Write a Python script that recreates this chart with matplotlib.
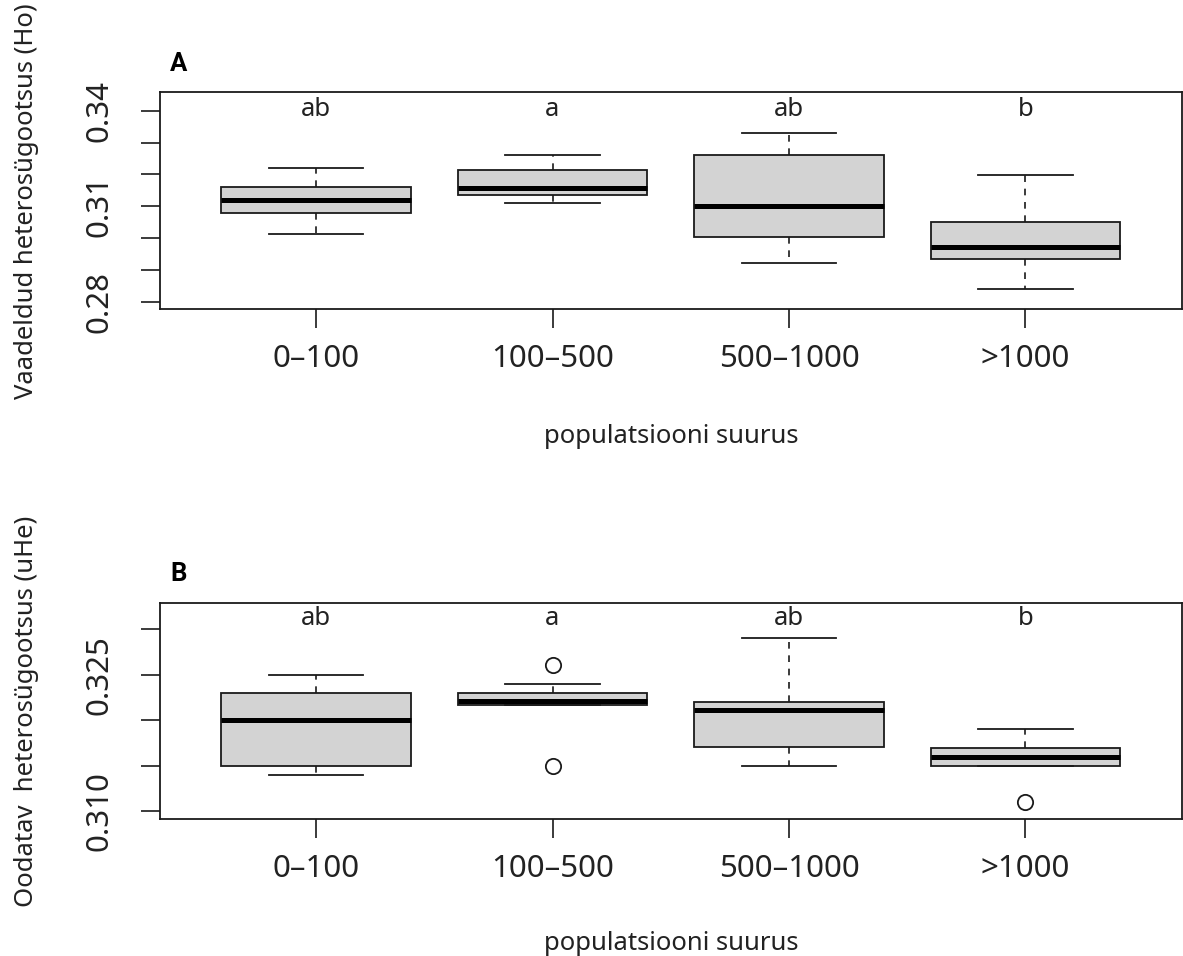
import matplotlib
matplotlib.use("Agg")
import matplotlib.pyplot as plt
import matplotlib.transforms as mtransforms

plt.rcParams['font.family'] = ['Noto Sans', 'DejaVu Sans']

categories = ["0–100", "100–500", "500–1000", ">1000"]
x_title = "populatsiooni suurus"

# Panel A: observed heterozygosity (Ho)
a_whislo = [0.3012, 0.3110, 0.2921, 0.2840]
a_q1     = [0.3079, 0.3134, 0.3002, 0.2934]
a_med    = [0.3119, 0.3158, 0.3101, 0.2973]
a_q3     = [0.3161, 0.3214, 0.3260, 0.3049]
a_whishi = [0.3221, 0.3261, 0.3331, 0.3199]
a_fliers = [[], [], [], []]
a_letters = ["ab", "a", "ab", "b"]
a_yticks = [0.28, 0.29, 0.30, 0.31, 0.32, 0.33, 0.34]
a_ylabels = ["0.28", "", "", "0.31", "", "", "0.34"]
a_ylim = (0.2776, 0.3458)
a_title = "Vaadeldud heterosügootsus (Ho)"

# Panel B: expected heterozygosity (uHe)
b_whislo = [0.3140, 0.3217, 0.3150, 0.3150]
b_q1     = [0.3150, 0.3217, 0.3170, 0.3150]
b_med    = [0.3200, 0.3221, 0.3211, 0.3160]
b_q3     = [0.3230, 0.3230, 0.3220, 0.3169]
b_whishi = [0.3250, 0.3240, 0.3290, 0.3190]
b_fliers = [[], [0.3260, 0.3150], [], [0.3110]]
b_letters = ["ab", "a", "ab", "b"]
b_yticks = [0.310, 0.315, 0.320, 0.325, 0.330]
b_ylabels = ["0.310", "", "", "0.325", ""]
b_ylim = (0.3091, 0.3329)
b_title = "Oodatav  heterosügootsus (uHe)"

W, H = 1183, 956
fig = plt.figure(figsize=(W / 100, H / 100), dpi=100)

def px_axes(left, top, right, bottom):
    return fig.add_axes([left / W, 1 - bottom / H, (right - left) / W, (bottom - top) / H])

EDGE = '#1a1a1a'
TXT = '#222222'

def draw(ax, whislo, q1, med, q3, whishi, fliers, letters, yticks, ylabels, ylim,
         ytitle, panel, letter_y, panel_y, title_y, ytitle_x):
    stats = []
    for i in range(len(categories)):
        stats.append(dict(whislo=whislo[i], q1=q1[i], med=med[i], q3=q3[i],
                          whishi=whishi[i], fliers=fliers[i], label=categories[i]))
    ax.bxp(stats, positions=list(range(1, len(categories) + 1)), widths=0.8,
           capwidths=0.4, patch_artist=True, showfliers=True,
           boxprops=dict(facecolor='#d3d3d3', edgecolor=EDGE, linewidth=1.3),
           medianprops=dict(color='black', linewidth=3.6, solid_capstyle='butt'),
           whiskerprops=dict(color=EDGE, linewidth=1.2, linestyle=(0, (4, 4))),
           capprops=dict(color=EDGE, linewidth=1.3),
           flierprops=dict(marker='o', markerfacecolor='none', markeredgecolor=EDGE,
                           markersize=11, markeredgewidth=1.3))
    ax.set_xlim(0.34, 4.66)
    ax.set_ylim(*ylim)
    ax.set_yticks(yticks)
    ax.set_yticklabels(ylabels, rotation=90, va='center')
    ax.set_xticks(range(1, len(categories) + 1))
    ax.set_xticklabels(categories)
    ax.tick_params(axis='both', direction='out', length=14, width=1.2, color=EDGE,
                   labelsize=22.5, labelcolor=TXT)
    ax.tick_params(axis='x', pad=11)
    ax.tick_params(axis='y', pad=19)
    for s in ax.spines.values():
        s.set_linewidth(1.3)
        s.set_color(EDGE)
    trans = mtransforms.blended_transform_factory(ax.transData, ax.transAxes)
    for i, lt in enumerate(letters):
        ax.text(i + 1, letter_y, lt, transform=trans, ha='center', va='center',
                fontsize=18.5, color=TXT)
    ax.text(0.0098, panel_y, panel, transform=ax.transAxes, ha='left', va='center',
            fontsize=18.5, fontweight='bold', color='black',
            family=['Roboto', 'DejaVu Sans'])
    ax.set_xlabel(x_title, fontsize=18.5, color=TXT)
    ax.xaxis.set_label_coords(0.5, title_y)
    ax.xaxis.label.set_va('center')
    ax.set_ylabel(ytitle, fontsize=18.5, color=TXT)
    ax.yaxis.set_label_coords(ytitle_x, 0.5)
    ax.yaxis.label.set_va('center')

axA = px_axes(160, 92.3, 1181.5, 309.3)
draw(axA, a_whislo, a_q1, a_med, a_q3, a_whishi, a_fliers, a_letters, a_yticks,
     a_ylabels, a_ylim, a_title, "A",
     letter_y=(309.3 - 110) / 217.0, panel_y=(309.3 - 64) / 217.0,
     title_y=(309.3 - 436) / 217.0, ytitle_x=(26 - 160) / 1021.5)

axB = px_axes(160, 602.7, 1181.5, 819.3)
draw(axB, b_whislo, b_q1, b_med, b_q3, b_whishi, b_fliers, b_letters, b_yticks,
     b_ylabels, b_ylim, b_title, "B",
     letter_y=(819.3 - 618) / 216.6, panel_y=(819.3 - 574) / 216.6,
     title_y=(819.3 - 943) / 216.6, ytitle_x=(26 - 160) / 1021.5)

fig.savefig("out.png", dpi=100, facecolor='white')
